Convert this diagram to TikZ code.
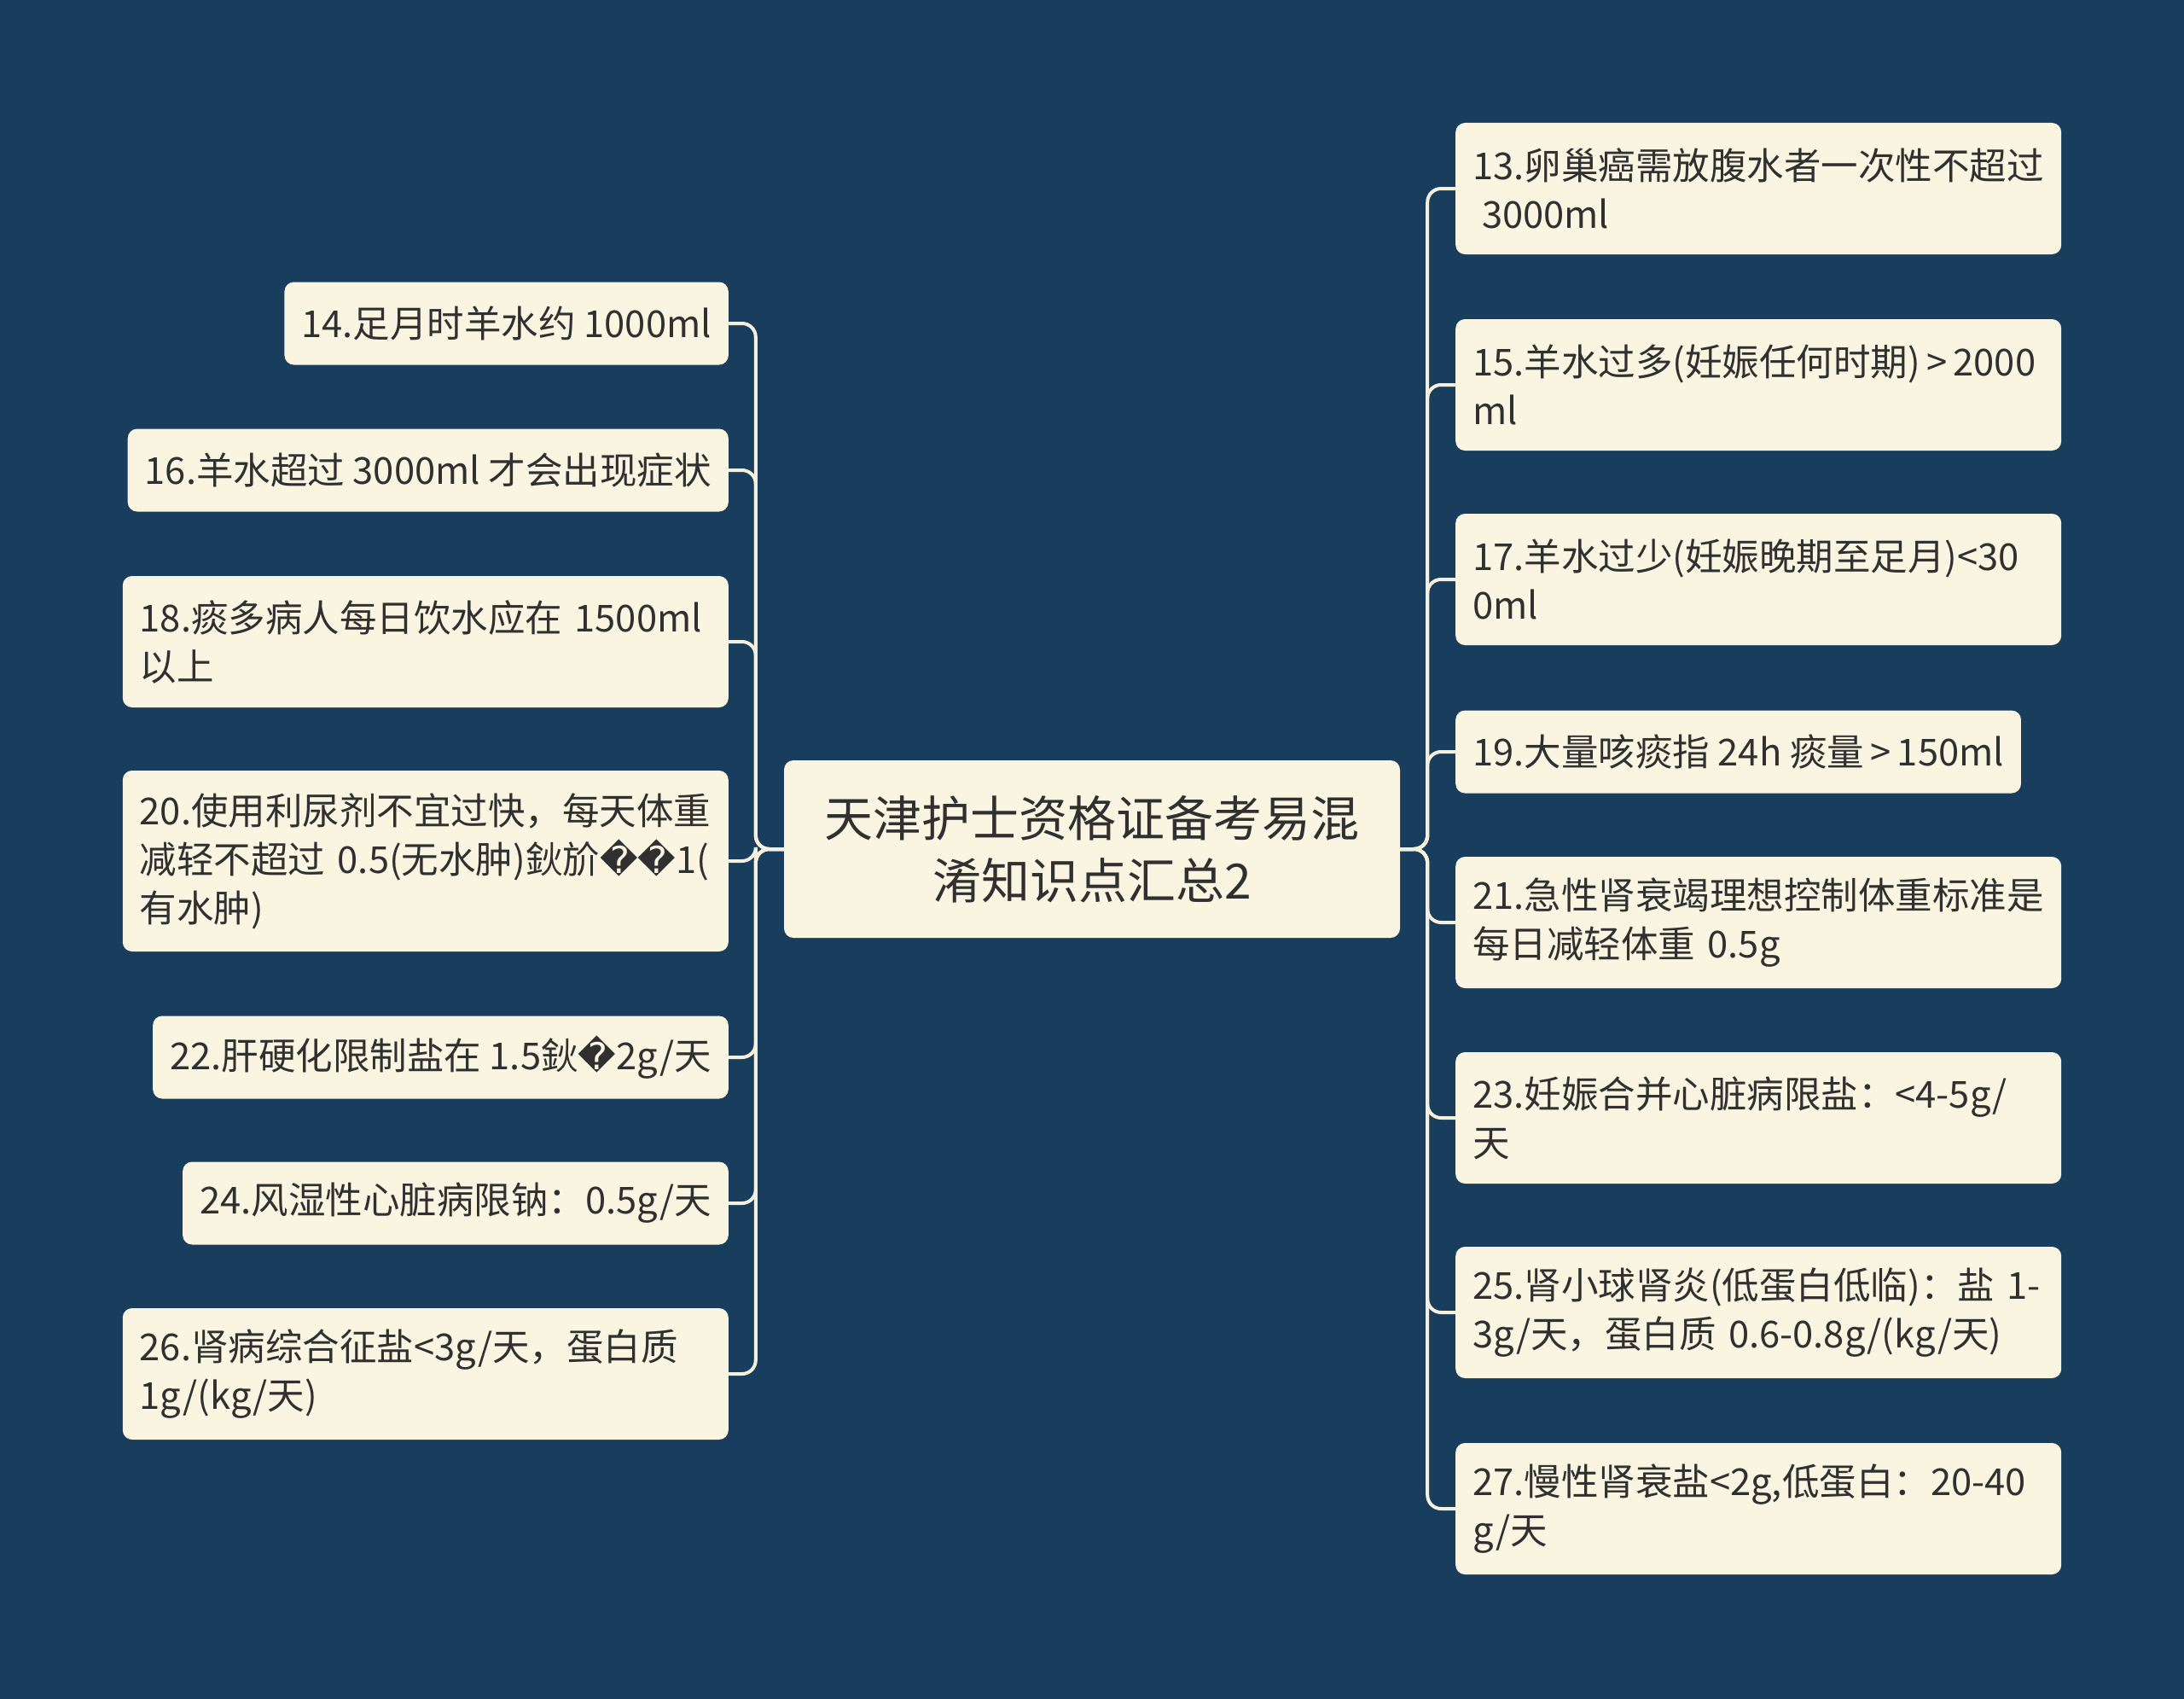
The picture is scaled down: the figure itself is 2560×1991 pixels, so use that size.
\documentclass[tikz,border=0pt]{standalone}
\usepackage{fontspec}
\setmainfont{Noto Sans CJK SC}
\newfontfamily\dvsans{DejaVu Sans}
\newcommand{\rep}{{\dvsans\char"FFFD}}
\definecolor{bgc}{RGB}{24,61,93}
\definecolor{nodefill}{RGB}{250,245,225}
\definecolor{linec}{RGB}{245,240,222}
\definecolor{txt}{RGB}{48,48,48}
\begin{document}
\begin{tikzpicture}[x=1pt,y=-1pt,
  leaf/.style={draw=none,fill=nodefill,rounded corners=11pt,text=txt,
    font=\fontsize{43.5}{57}\selectfont,inner xsep=20pt,inner ysep=0pt,align=left},
  one/.style={leaf,minimum height=97pt},
  two/.style={leaf,minimum height=154pt,text width=670pt},
  three/.style={leaf,minimum height=212pt,text width=670pt},
  root/.style={draw=none,fill=nodefill,rounded corners=11pt,text=txt,
    font=\fontsize{57}{73}\selectfont,align=center,minimum width=722pt,minimum height=208pt,inner sep=0pt},
  conn/.style={draw=linec,line width=4pt,rounded corners=16pt}]
\fill[bgc] (0,0) rectangle (2560,1991);
\useasboundingbox (0,0) rectangle (2560,1991);

\node[root] (c) at (1280,995) {天津护士资格证备考易混\\淆知识点汇总2};

% left
\node[one,anchor=east] (n14) at (854,379) {14.足月时羊水约 1000ml};
\node[one,anchor=east] (n16) at (854,551) {16.羊水超过 3000ml 才会出现症状};
\node[two,anchor=east] (n18) at (854,752) {18.痰多病人每日饮水应在 1500ml\\以上};
\node[three,anchor=east] (n20) at (854,1009) {20.使用利尿剂不宜过快，每天体重\\减轻不超过 0.5(无水肿)鈥斺\rep\rep1(\\有水肿)};
\node[one,anchor=east] (n22) at (854,1239) {22.肝硬化限制盐在 1.5鈥\rep2g/天};
\node[one,anchor=east] (n24) at (854,1410) {24.风湿性心脏病限钠：0.5g/天};
\node[two,anchor=east] (n26) at (854,1610) {26.肾病综合征盐<3g/天，蛋白质\\1g/(kg/天)};

% right
\node[two,anchor=west] (n13) at (1706,221) {13.卵巢癌需放腹水者一次性不超过\\\hspace*{0.25em}3000ml};
\node[two,anchor=west] (n15) at (1706,451) {15.羊水过多(妊娠任何时期)\,>\,2000\\ml};
\node[two,anchor=west] (n17) at (1706,679) {17.羊水过少(妊娠晚期至足月)<30\\0ml};
\node[one,anchor=west] (n19) at (1706,881) {19.大量咳痰指 24h 痰量\,>\,150ml};
\node[two,anchor=west] (n21) at (1706,1081) {21.急性肾衰竭理想控制体重标准是\\每日减轻体重 0.5g};
\node[two,anchor=west] (n23) at (1706,1310) {23.妊娠合并心脏病限盐：<4-5g/\\天};
\node[two,anchor=west] (n25) at (1706,1538) {25.肾小球肾炎(低蛋白低临)：盐 1-\\3g/天，蛋白质 0.6-0.8g/(kg/天)};
\node[two,anchor=west] (n27) at (1706,1768) {27.慢性肾衰盐<2g,低蛋白：20-40\\g/天};

\foreach \n in {n14,n16,n18,n20,n22,n24,n26}
  \draw[conn] (c.west) -- ++(-33,0) |- (\n.east);
\foreach \n in {n13,n15,n17,n19,n21,n23,n25,n27}
  \draw[conn] (c.east) -- ++(32,0) |- (\n.west);
\end{tikzpicture}
\end{document}
